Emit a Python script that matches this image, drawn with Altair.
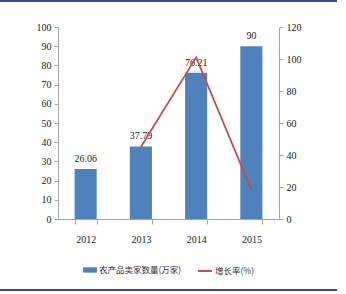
import altair as alt
import pandas as pd

years = ["2012", "2013", "2014", "2015"]
sellers = [26.06, 37.79, 76.21, 90]
seller_labels = ["26.06", "37.79", "76.21", "90"]
growth = [None, 45.0, 101.0, 18.2]

df = pd.DataFrame({"year": years, "sellers": sellers, "label": seller_labels, "growth": growth})

SERIF = "Liberation Serif"
CJK = "Noto Sans CJK SC"
BLUE = "#4f81bd"
RED = "#c0504d"
AXIS_GREY = "#a6a6a6"

x_enc = alt.X("year:N", title=None, sort=years,
              scale=alt.Scale(paddingInner=0.6, paddingOuter=0.3),
              axis=alt.Axis(labelAngle=0, labelFont=SERIF, labelFontSize=10, labelColor="#222",
                            domainColor=AXIS_GREY, tickColor=AXIS_GREY, tickBand="extent",
                            tickSize=5, labelPadding=10, grid=False))

base = alt.Chart(df).encode(x=x_enc)

bars = base.mark_bar(color=BLUE).transform_calculate(s='"农产品卖家数量(万家)"').encode(
    y=alt.Y("sellers:Q", title=None, scale=alt.Scale(domain=[0, 100]),
            axis=alt.Axis(orient="left", values=list(range(0, 101, 10)), labelFont=SERIF,
                          labelFontSize=10, labelColor="#222", domainColor=AXIS_GREY,
                          tickColor=AXIS_GREY, tickSize=4, grid=False, labelPadding=3)),
    color=alt.Color("s:N", scale=alt.Scale(domain=["农产品卖家数量(万家)"], range=[BLUE]),
                    legend=alt.Legend(title=None, orient="none", legendX=25, legendY=236,
                                      symbolType="M-1,-0.38H1V0.38H-1Z", symbolSize=196,
                                      symbolStrokeWidth=0, labelFont=CJK, labelFontSize=8.5,
                                      labelColor="#333", labelOffset=2, padding=0)),
)

labels = base.mark_text(font=SERIF, fontSize=10, color="#222", dy=-10).encode(
    y=alt.Y("sellers:Q", scale=alt.Scale(domain=[0, 100]), axis=None),
    text="label:N",
)

line = base.mark_line(strokeWidth=1.8).transform_filter("datum.growth != null").transform_calculate(
    g='"增长率(%)"').encode(
    y=alt.Y("growth:Q", title=None, scale=alt.Scale(domain=[0, 120]),
            axis=alt.Axis(orient="right", values=list(range(0, 121, 20)), labelFont=SERIF,
                          labelFontSize=10, labelColor="#222", domainColor=AXIS_GREY,
                          tickColor=AXIS_GREY, tickSize=4, grid=False, labelPadding=3)),
    stroke=alt.Stroke("g:N", scale=alt.Scale(domain=["增长率(%)"], range=[RED]),
                      legend=alt.Legend(title=None, orient="none", legendX=139, legendY=236,
                                        symbolType="stroke", symbolSize=196, symbolStrokeWidth=2,
                                        labelFont=CJK, labelFontSize=8.5, labelColor="#333",
                                        labelOffset=2, padding=0)),
)

top_rule = alt.Chart(df).mark_rule(color="#2e3f7f", strokeWidth=1.2).encode(
    x=alt.value(-58), x2=alt.value(279), y=alt.value(-26))
bottom_rule = alt.Chart(df).mark_rule(color="#2e3f7f", strokeWidth=1.2).encode(
    x=alt.value(-58), x2=alt.value(279), y=alt.value(263))

chart = alt.layer(
    bars, labels, line, top_rule, bottom_rule,
).resolve_scale(y="independent", color="independent", stroke="independent").properties(
    width=221, height=192,
    autosize=alt.AutoSizeParams(type="none"),
    padding={"left": 58, "top": 27, "right": 67, "bottom": 75},
    background="white",
).configure_view(stroke=None)

chart.save("out.html", embed_options={"renderer": "svg", "actions": False})
